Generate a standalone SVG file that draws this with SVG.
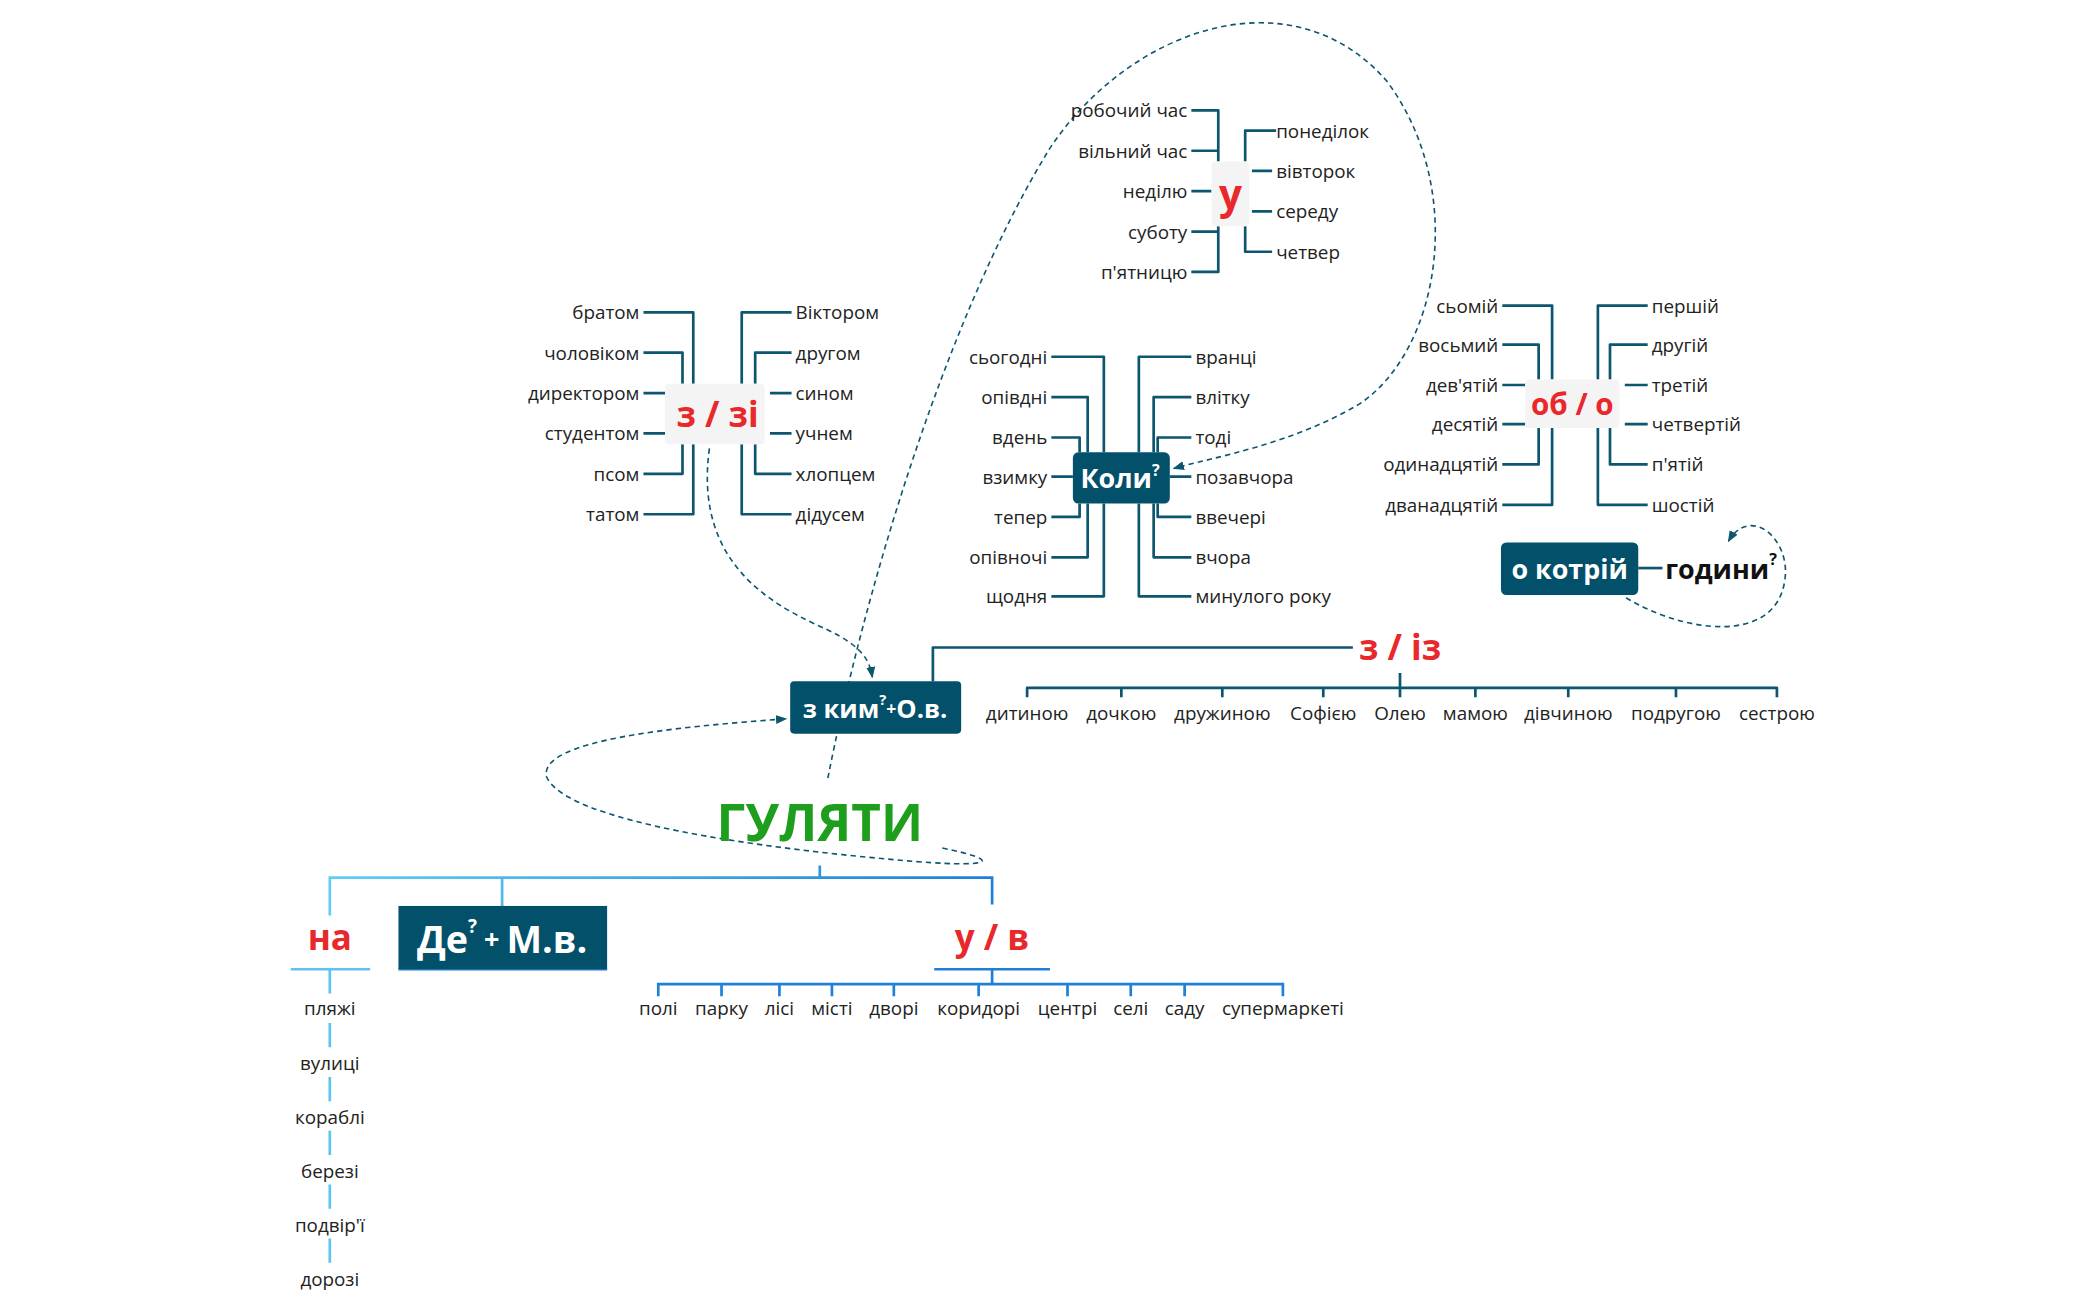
<svg xmlns="http://www.w3.org/2000/svg" width="2100" height="1300" viewBox="0 0 2100 1300">
<defs>
<style>
.t{font-family:"Open Sans","Noto Sans",sans-serif;font-size:14px;fill:#222;dominant-baseline:central}
.r{text-anchor:end}.m{text-anchor:middle}
.c{stroke:#0d5670;stroke-width:2;fill:none;stroke-linejoin:round}
.d{stroke:#0d5670;stroke-width:1.2;fill:none;stroke-dasharray:4 3}
.hub{font-family:"Open Sans","Noto Sans",sans-serif;font-weight:bold;fill:#e8282b;text-anchor:middle;dominant-baseline:central}
.wb{font-family:"Open Sans","Noto Sans",sans-serif;font-weight:bold;fill:#fff;text-anchor:middle;dominant-baseline:central}
.box{fill:#02506a}
.gb{fill:#f4f4f4}
.lb{stroke:#5cc4ef;stroke-width:2;fill:none}
.bb{stroke:#1e80d8;stroke-width:2;fill:none}
</style>
<marker id="ar" viewBox="0 0 10 10" refX="9" refY="5" markerWidth="7" markerHeight="7" orient="auto"><path d="M0,1 L10,5 L0,9 z" fill="#0d5670"/></marker>
<linearGradient id="gl" x1="0" x2="1"><stop offset="0" stop-color="#62cdf2"/><stop offset="1" stop-color="#1e7fd8"/></linearGradient>
</defs>
<rect width="2100" height="1300" fill="#fff"/>
<g transform="scale(1.34615)">
<g id="connectors">
<path class="c" d="M885,82 H905 V120 M885,112 H905 M885,142 H900 M885,172 H905 M885,202 H905 V168 M948,97 H925 V120 M945,127 H930 M945,157 H930 M945,187 H925 V168"/>
<path class="c" d="M781,265 H820 V336 M781,295 H808 V336 M781,325 H802 V336 M781,354 H797 M781,384 H802 V374 M781,414 H808 V374 M781,443 H820 V374 M885,265 H846 V336 M885,295 H857 V336 M885,325 H860 V336 M869,354 H885 M885,384 H860 V374 M885,414 H857 V374 M885,443 H846 V374"/>
<path class="c" d="M478,232 H515 V285 M478,262 H507 V285 M478,292 H494 M478,322 H494 M478,352 H507 V330 M478,382 H515 V330 M588,232 H551 V285 M588,262 H561 V285 M572,292 H588 M572,322 H588 M588,352 H561 V330 M588,382 H551 V330"/>
<path class="c" d="M1116,227 H1153 V282 M1116,256 H1143 V282 M1116,286 H1133 M1116,315 H1133 M1116,345 H1143 V318 M1116,375 H1153 V318 M1224,227 H1187 V282 M1224,256 H1196 V282 M1207,286 H1224 M1207,315 H1224 M1224,345 H1196 V318 M1224,375 H1187 V318"/>
<path class="c" d="M1217,422 H1235"/>
<path class="c" d="M693,506 V481 H1005 M1040,500 V511 M763,518 V511 H1320 V518 M833,511 V518 M908,511 V518 M983,511 V518 M1040,511 V518 M1096,511 V518 M1165,511 V518 M1245,511 V518"/>
<path stroke="url(#gl)" stroke-width="2" fill="none" d="M609,643 V652 M245,680 V652 H737 V672 M373,652 V673"/>
<path class="lb" d="M216,720 H275 M245,720 V738 M245,760 V778 M245,800 V818 M245,840 V858 M245,880 V898 M245,920 V938"/>
<path class="bb" d="M296,720 H451 M694,720 H780 M737,720 V731 M489,740 V731 H953 V740 M536,731 V740 M579,731 V740 M618,731 V740 M664,731 V740 M727,731 V740 M793,731 V740 M840,731 V740 M880,731 V740"/>
<path class="d" marker-end="url(#ar)" d="M527,333 C515,420 575,450 615,468 C640,480 646,490 648,503"/>
<path class="d" marker-end="url(#ar)" d="M615,578 C640,450 700,240 780,110 C840,20 960,-20 1030,60 C1090,140 1070,260 1010,300 C960,330 900,340 872,348"/>
<path class="d" marker-end="url(#ar)" d="M700,630 C740,638 745,645 680,640 C560,630 420,610 406,577 C400,550 500,540 584,534"/>
<path class="d" marker-end="url(#ar)" d="M1208,444 C1250,470 1320,480 1326,430 C1330,400 1300,375 1284,402"/>
</g>
<g id="node-u">
<rect class="gb" x="900" y="120" width="28" height="48" rx="3"/>
<text class="hub" x="914" y="144" font-size="30">у</text>
<text class="t r" x="882" y="82">робочий час</text><text class="t r" x="882" y="112">вільний час</text><text class="t r" x="882" y="142">неділю</text><text class="t r" x="882" y="172">суботу</text><text class="t r" x="882" y="202">п'ятницю</text>
<text class="t" x="948" y="97">понеділок</text><text class="t" x="948" y="127">вівторок</text><text class="t" x="948" y="157">середу</text><text class="t" x="948" y="187">четвер</text>
</g>
<g id="node-koly">
<rect class="box" x="797" y="336" width="72" height="38" rx="4"/>
<text class="wb" x="832" y="355" font-size="20">Коли<tspan font-size="12" dy="-6">?</tspan></text>
<text class="t r" x="778" y="265">сьогодні</text><text class="t r" x="778" y="295">опівдні</text><text class="t r" x="778" y="325">вдень</text><text class="t r" x="778" y="354">взимку</text><text class="t r" x="778" y="384">тепер</text><text class="t r" x="778" y="414">опівночі</text><text class="t r" x="778" y="443">щодня</text>
<text class="t" x="888" y="265">вранці</text><text class="t" x="888" y="295">влітку</text><text class="t" x="888" y="325">тоді</text><text class="t" x="888" y="354">позавчора</text><text class="t" x="888" y="384">ввечері</text><text class="t" x="888" y="414">вчора</text><text class="t" x="888" y="443">минулого року</text>
</g>
<g id="node-z-zi">
<rect class="gb" x="494" y="285" width="74" height="45" rx="3"/>
<text class="hub" x="533" y="307" font-size="26">з / зі</text>
<text class="t r" x="475" y="232">братом</text><text class="t r" x="475" y="262">чоловіком</text><text class="t r" x="475" y="292">директором</text><text class="t r" x="475" y="322">студентом</text><text class="t r" x="475" y="352">псом</text><text class="t r" x="475" y="382">татом</text>
<text class="t" x="591" y="232">Віктором</text><text class="t" x="591" y="262">другом</text><text class="t" x="591" y="292">сином</text><text class="t" x="591" y="322">учнем</text><text class="t" x="591" y="352">хлопцем</text><text class="t" x="591" y="382">дідусем</text>
</g>
<g id="node-ob-o">
<rect class="gb" x="1133" y="282" width="70" height="36" rx="3"/>
<text class="hub" x="1168" y="300" font-size="22">об / о</text>
<text class="t r" x="1113" y="227">сьомій</text><text class="t r" x="1113" y="256">восьмий</text><text class="t r" x="1113" y="286">дев'ятій</text><text class="t r" x="1113" y="315">десятій</text><text class="t r" x="1113" y="345">одинадцятій</text><text class="t r" x="1113" y="375">дванадцятій</text>
<text class="t" x="1227" y="227">першій</text><text class="t" x="1227" y="256">другій</text><text class="t" x="1227" y="286">третій</text><text class="t" x="1227" y="315">четвертій</text><text class="t" x="1227" y="345">п'ятій</text><text class="t" x="1227" y="375">шостій</text>
</g>
<g id="node-o-kotrii">
<rect class="box" x="1115" y="403" width="102" height="39" rx="4"/>
<text class="wb" x="1166" y="422" font-size="20">о котрій</text>
<text x="1237" y="422" font-family="Open Sans, sans-serif" font-weight="bold" font-size="20" fill="#111" dominant-baseline="central">години<tspan font-size="12" dy="-7">?</tspan></text>
</g>
<g id="node-z-iz">
<text class="hub" x="1040" y="480" font-size="26">з / із</text>
<text class="t m" x="763" y="530">дитиною</text><text class="t m" x="833" y="530">дочкою</text><text class="t m" x="908" y="530">дружиною</text><text class="t m" x="983" y="530">Софією</text><text class="t m" x="1040" y="530">Олею</text><text class="t m" x="1096" y="530">мамою</text><text class="t m" x="1165" y="530">дівчиною</text><text class="t m" x="1245" y="530">подругою</text><text class="t m" x="1320" y="530">сестрою</text>
</g>
<g id="node-z-kym">
<rect class="box" x="587" y="506" width="127" height="39" rx="3"/>
<text class="wb" x="650" y="526" font-size="19">з ким<tspan font-size="11" dy="-7">?</tspan><tspan font-size="13" dy="7">+</tspan>О.в.</text>
</g>
<g id="node-hulyaty">
<text x="609" y="610" font-family="Open Sans, sans-serif" font-weight="bold" font-size="38" fill="#1d9e1d" text-anchor="middle" dominant-baseline="central">ГУЛЯТИ</text>
</g>
<g id="node-na">
<text class="hub" x="245" y="696" font-size="26">на</text>
<text class="t m" x="245" y="749">пляжі</text><text class="t m" x="245" y="790">вулиці</text><text class="t m" x="245" y="830">кораблі</text><text class="t m" x="245" y="870">березі</text><text class="t m" x="245" y="910">подвір'ї</text><text class="t m" x="245" y="950">дорозі</text>
</g>
<g id="node-de">
<rect class="box" x="296" y="673" width="155" height="47"/>
<text class="wb" x="373" y="697" font-size="28" font-weight="normal">Де<tspan font-size="14" dy="-9">?</tspan><tspan font-size="20" dy="9"> + </tspan>М.в.</text>
</g>
<g id="node-u-v">
<text class="hub" x="737" y="696" font-size="26">у / в</text>
<text class="t m" x="489" y="749">полі</text><text class="t m" x="536" y="749">парку</text><text class="t m" x="579" y="749">лісі</text><text class="t m" x="618" y="749">місті</text><text class="t m" x="664" y="749">дворі</text><text class="t m" x="727" y="749">коридорі</text><text class="t m" x="793" y="749">центрі</text><text class="t m" x="840" y="749">селі</text><text class="t m" x="880" y="749">саду</text><text class="t m" x="953" y="749">супермаркеті</text>
</g>
</g>
</svg>
